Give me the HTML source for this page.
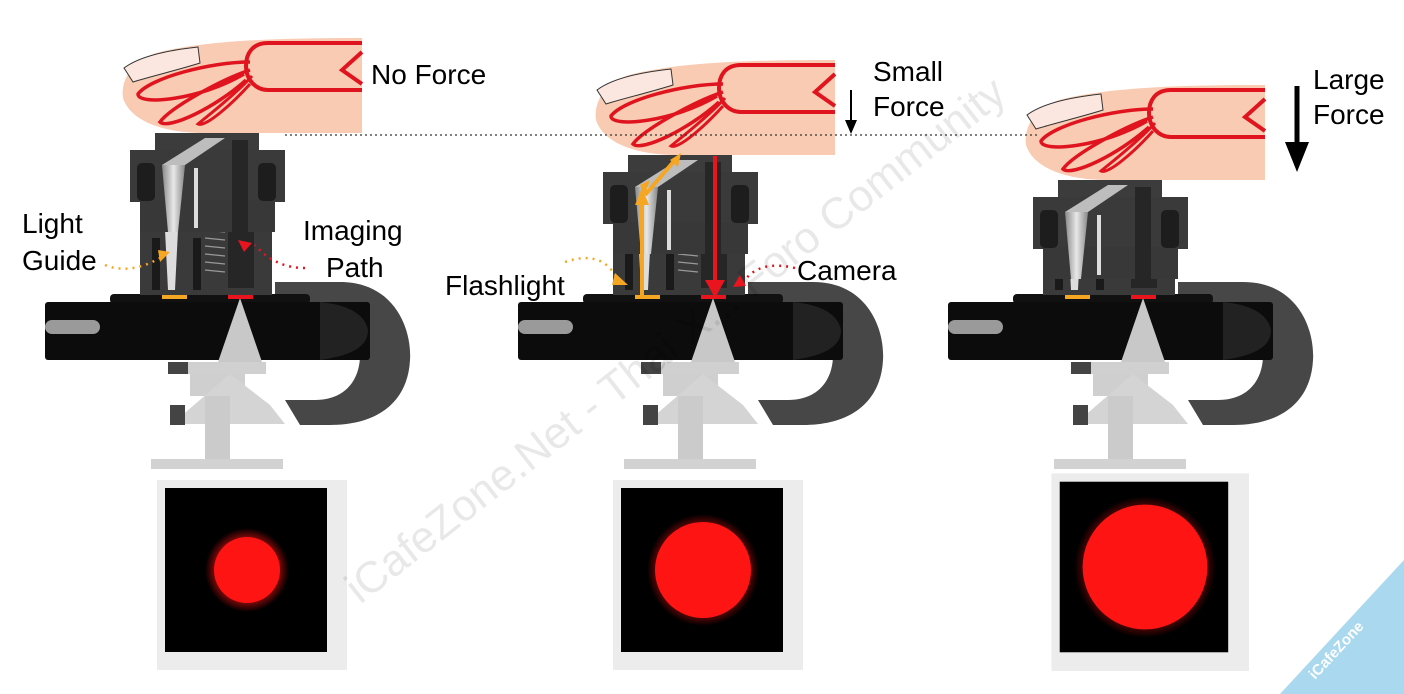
<!DOCTYPE html>
<html><head><meta charset="utf-8"><style>
html,body{margin:0;padding:0;background:#fff;width:1404px;height:694px;overflow:hidden}
svg{display:block}
text{font-family:"Liberation Sans",sans-serif}
</style></head><body>
<svg width="1404" height="694" viewBox="0 0 1404 694" xmlns="http://www.w3.org/2000/svg">
<defs>
<radialGradient id="glow1"><stop offset="0.6" stop-color="#ff1010"/><stop offset="0.75" stop-color="#8a0a0a"/><stop offset="1" stop-color="#000"/></radialGradient>
<linearGradient id="lg" x1="0" x2="1"><stop offset="0" stop-color="#888"/><stop offset="0.5" stop-color="#e8e8e8"/><stop offset="1" stop-color="#888"/></linearGradient>
<g id="base">
  <path d="M275 282 H340 C395 282 412 330 410 360 C408 400 380 425 330 425 H300 L285 400 H315 C345 400 360 380 360 355 C360 325 345 308 315 308 H275 Z" fill="#474747"/>
  <rect x="110" y="294" width="200" height="10" rx="4" fill="#111"/>
  <rect x="45" y="302" width="325" height="58" rx="3" fill="#0c0c0c"/>
  <path d="M320 302 C350 305 365 315 368 330 C368 345 355 355 320 360 Z" fill="#222"/>
  <rect x="45" y="320" width="55" height="14" rx="7" fill="#9a9a9a"/>
  <polygon points="240,298 218,362 262,362" fill="#c8c8c8"/>
  <rect x="168" y="362" width="98" height="12" fill="#d0d0d0"/>
  <rect x="168" y="362" width="20" height="12" fill="#444"/>
  <rect x="190" y="374" width="55" height="22" fill="#cfcfcf"/>
  <polygon points="230,374 172,424 285,424 270,405" fill="#d4d4d4"/>
  <rect x="170" y="405" width="15" height="20" fill="#444"/>
  <rect x="205" y="396" width="25" height="64" fill="#cbcbcb"/>
  <rect x="151" y="459" width="132" height="10" fill="#d2d2d2"/>
  <rect x="162" y="293" width="25" height="6" fill="#f5a623"/>
  <rect x="228" y="293" width="25" height="6" fill="#e8141e"/>
  <circle cx="228" cy="289" r="5" fill="#bbb"/><circle cx="252" cy="289" r="5" fill="#bbb"/>
  <path d="M140 230 H272 V295 H140 Z" fill="#3a3a3a"/>
  <rect x="152" y="238" width="8" height="52" fill="#1a1a1a"/>
  <rect x="193" y="238" width="8" height="52" fill="#1a1a1a"/>
  <g stroke="#999" stroke-width="1.3"><line x1="205" y1="230" x2="225" y2="232"/><line x1="205" y1="238" x2="225" y2="240"/><line x1="205" y1="246" x2="225" y2="248"/><line x1="205" y1="254" x2="225" y2="256"/><line x1="205" y1="262" x2="225" y2="264"/><line x1="205" y1="270" x2="225" y2="272"/></g>
  <rect x="228" y="222" width="26" height="66" fill="#262626"/>
  <polygon points="165,230 178,230 175,290 168,290" fill="#ddd"/>
</g>
<g id="top">
  <rect x="155" y="133" width="104" height="18" fill="#3c3c3c"/>
  <rect x="130" y="150" width="155" height="52" fill="#3a3a3a"/>
  <rect x="140" y="200" width="135" height="32" fill="#383838"/>
  <rect x="137" y="163" width="18" height="38" rx="5" fill="#1d1d1d"/>
  <rect x="258" y="163" width="18" height="38" rx="5" fill="#1d1d1d"/>
  <polygon points="162,165 185,165 178,232 168,232" fill="url(#lg)"/>
  <polygon points="162,165 185,165 225,138 205,138" fill="#bdbdbd"/>
  <rect x="232" y="140" width="16" height="92" fill="#262626"/>
  <rect x="194" y="168" width="4" height="60" fill="#ddd"/>
</g>
<g id="finger">
  <path d="M160 52 C210 40 280 38 362 38 V133 H200 C160 132 130 120 123 98 C120 78 135 58 160 52 Z" fill="#f8cbb2"/>
  <path d="M124 68 C140 56 170 50 198 47 L200 63 C178 70 152 76 133 82 Z" fill="#fbe7df" stroke="#333" stroke-width="1"/>
  <path d="M362 43 H268 C252 43 246 54 246 66 C246 80 256 90 268 90 H362 M362 52 L342 70 L362 84" fill="none" stroke="#e0141e" stroke-width="4"/>
  <path d="M250 62 C210 62 150 78 138 94 C138 106 200 100 244 74" fill="none" stroke="#e0141e" stroke-width="3.5"/>
  <path d="M250 70 C220 80 170 108 160 122 C168 130 215 108 246 80" fill="none" stroke="#e0141e" stroke-width="3.5"/>
  <path d="M252 76 C235 95 205 118 198 124 C205 128 232 104 250 84" fill="none" stroke="#e0141e" stroke-width="3"/>
</g>
<g id="screen">
  <rect x="-90" y="-90" width="190" height="190" fill="#ececec"/>
  <rect x="-82" y="-82" width="162" height="164" fill="#000"/>
</g>
</defs>

<use href="#base"/><use href="#top"/><use href="#finger"/>
<g transform="translate(473,0)"><use href="#base"/><g transform="translate(0,22)"><use href="#top"/></g><g transform="translate(0,22)"><use href="#finger"/></g></g>
<g transform="translate(903,0)"><use href="#base"/><g transform="translate(0,47)"><use href="#top"/></g><g transform="translate(0,47)"><use href="#finger"/></g></g>

<line x1="285" y1="135" x2="1040" y2="135" stroke="#333" stroke-width="1.3" stroke-dasharray="2,3"/>

<g transform="translate(247,570)"><use href="#screen"/><circle r="42" fill="url(#glow1)"/><circle r="33" fill="#ff1414"/></g>
<g transform="translate(703,570)"><use href="#screen"/><circle r="56" fill="url(#glow1)"/><circle r="48" fill="#ff1414"/></g>
<g transform="translate(1145,567) scale(1.04)"><use href="#screen"/><circle r="68" fill="url(#glow1)"/><circle r="60" fill="#ff1414"/></g>

<g stroke="#f5a623" stroke-width="4" fill="#f5a623">
  <line x1="642" y1="295" x2="642" y2="200"/>
  <line x1="645" y1="195" x2="675" y2="160"/>
</g>
<polygon points="635,205 642,188 649,205" fill="#f5a623"/>
<polygon points="670,160 681,153 678,167" fill="#f5a623"/>
<polygon points="640,185 650,180 645,195" fill="#f5a623"/>
<line x1="715" y1="156" x2="715" y2="282" stroke="#e8141e" stroke-width="4"/>
<polygon points="705,280 725,280 715,298" fill="#e8141e"/>

<path d="M105 265 Q130 275 160 258" fill="none" stroke="#f5a623" stroke-width="2.5" stroke-dasharray="2,5"/>
<polygon points="158,250 170,252 160,262" fill="#f5a623"/>
<path d="M305 268 Q275 268 255 245" fill="none" stroke="#e8141e" stroke-width="2.5" stroke-dasharray="2,5"/>
<polygon points="238,240 252,243 244,252" fill="#e8141e"/>
<path d="M565 262 Q600 250 615 275" fill="none" stroke="#f5a623" stroke-width="2.5" stroke-dasharray="2,5"/>
<polygon points="615,273 628,285 612,285" fill="#f5a623"/>
<path d="M795 268 Q760 260 745 280" fill="none" stroke="#e8141e" stroke-width="2.5" stroke-dasharray="2,5"/>
<polygon points="733,287 740,275 746,286" fill="#e8141e"/>

<line x1="851" y1="90" x2="851" y2="122" stroke="#000" stroke-width="2"/>
<polygon points="845,120 857,120 851,134" fill="#000"/>
<line x1="1297" y1="86" x2="1297" y2="145" stroke="#000" stroke-width="5"/>
<polygon points="1285,142 1309,142 1297,172" fill="#000"/>

<g font-size="28" fill="#000">
<text x="371" y="84">No Force</text>
<text x="873" y="81">Small</text><text x="873" y="116">Force</text>
<text x="1313" y="89">Large</text><text x="1313" y="124">Force</text>
<text x="22" y="233">Light</text><text x="22" y="270">Guide</text>
<text x="303" y="240">Imaging</text><text x="326" y="277">Path</text>
<text x="445" y="295">Flashlight</text>
<text x="797" y="280">Camera</text>
</g>

<text x="0" y="0" font-size="44" fill="#000" fill-opacity="0.09" transform="translate(360,605) rotate(-38)">iCafeZone.Net - Thai X... Foro Community</text>
<polygon points="1404,560 1404,694 1280,694" fill="#a9d8ef"/>
<text x="0" y="0" font-size="15" font-weight="bold" fill="#fff" transform="translate(1315,680) rotate(-47)">iCafeZone</text>
</svg>
</body></html>
